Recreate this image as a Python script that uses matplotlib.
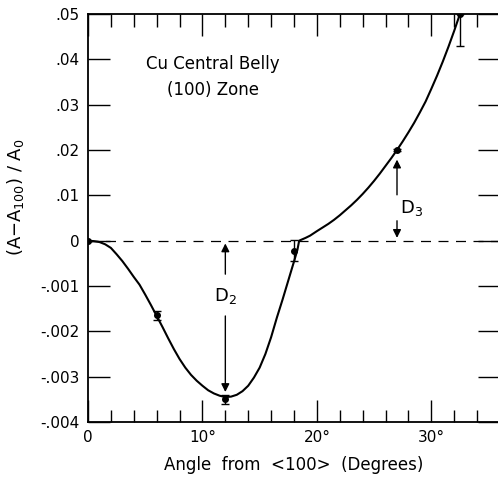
import numpy as np
import matplotlib
matplotlib.use('Agg')
import matplotlib.pyplot as plt

# curva suave (grados, valor)
curve_x = [0, 0.5, 1.0, 1.5, 2.0, 2.5, 3.0, 3.5, 4.0, 4.5, 5.0, 5.5, 6.0, 6.5, 7.0, 7.5, 8.0, 8.5, 9.0, 9.5,
           10.0, 10.5, 11.0, 11.5, 12.0, 12.5, 13.0, 13.5, 14.0, 14.5, 15.0, 15.5, 16.0, 16.5, 17.0, 17.5, 18.0, 18.3,
           18.45, 19.0, 19.4, 20.0, 20.5, 21.0, 21.5, 22.0, 22.5, 23.0, 23.5, 24.0, 24.5, 25.0, 25.5, 26.0, 26.5,
           27.0, 27.5, 28.0, 28.5, 29.0, 29.5, 30.0, 30.5, 31.0, 31.5, 32.0, 32.5]
curve_y = [0, -0.00001, -0.00003, -0.00008, -0.00016, -0.0003, -0.00045, -0.00062, -0.0008, -0.00097,
           -0.00119, -0.00142, -0.00166, -0.0019, -0.00215, -0.00239, -0.00261, -0.0028, -0.00296, -0.00309,
           -0.0032, -0.0033, -0.00337, -0.00342, -0.00345, -0.00344, -0.0034, -0.00332, -0.0032, -0.00302,
           -0.0028, -0.0025, -0.00213, -0.0017, -0.0013, -0.00088, -0.00046, -0.0002,
           0.0, 0.0006, 0.0011, 0.0021, 0.0029, 0.0037, 0.0046, 0.0056, 0.0067, 0.0078, 0.0090, 0.0103, 0.0117,
           0.0132, 0.0148, 0.0165, 0.0182, 0.0200, 0.0219, 0.0239, 0.0260, 0.0283, 0.0307, 0.0335, 0.0364,
           0.0395, 0.0428, 0.0463, 0.0500]

# puntos medidos con barras de error
pts_x = [0, 6, 12, 18, 27, 32.5]
pts_y = [0, -0.00165, -0.0035, -0.00022, 0.0200, 0.0500]
err_lo = [0, 0.0001, 0.0001, 0.00022, 0.0003, 0.007]
err_hi = [0, 0.0001, 0.0001, 0.00028, 0.0003, 0.0]

yticks = [-0.004, -0.003, -0.002, -0.001, 0, 0.01, 0.02, 0.03, 0.04, 0.05]
ytick_labels = ['-.004', '-.003', '-.002', '-.001', '0', '.01', '.02', '.03', '.04', '.05']
xticks = [0, 10, 20, 30]
xtick_labels = ['0', '10°', '20°', '30°']


def fwd(y):
    y = np.asarray(y, dtype=float)
    return np.where(y >= 0, y * 100, y * 1000)


def inv(t):
    t = np.asarray(t, dtype=float)
    return np.where(t >= 0, t / 100, t / 1000)


plt.rcParams['font.family'] = ['DejaVu Sans']
fig = plt.figure(figsize=(4.98, 4.78), dpi=100)
ax = fig.add_axes([88 / 498, 56 / 478, 412 / 498, 408 / 478])
ax.set_yscale('function', functions=(fwd, inv))
ax.set_xlim(0, 36)
ax.set_ylim(-0.004, 0.05)

ax.axhline(0, color='black', lw=0.9, dashes=(8, 6))
ax.plot(curve_x, curve_y, color='black', lw=1.5)
ax.errorbar(pts_x, pts_y, yerr=[err_lo, err_hi], fmt='o', color='black',
            ms=4, elinewidth=1.0, capsize=3, capthick=1.0)

# flechas D2 y D3
ax.annotate('', xy=(12, -0.0034), xytext=(12, -0.0016),
            arrowprops=dict(arrowstyle='-|>', color='black', lw=1.0, mutation_scale=12))
ax.annotate('', xy=(12, 0.0), xytext=(12, -0.0008),
            arrowprops=dict(arrowstyle='-|>', color='black', lw=1.0, mutation_scale=12))
ax.text(12, -0.00122, 'D$_2$', ha='center', va='center', fontsize=13)
ax.annotate('', xy=(27, 0.0185), xytext=(27, 0.0095),
            arrowprops=dict(arrowstyle='-|>', color='black', lw=1.0, mutation_scale=12))
ax.annotate('', xy=(27, 0.0), xytext=(27, 0.0050),
            arrowprops=dict(arrowstyle='-|>', color='black', lw=1.0, mutation_scale=12))
ax.text(27.3, 0.0073, 'D$_3$', ha='left', va='center', fontsize=13)

ax.text(10.9, 0.039, 'Cu Central Belly', ha='center', va='center', fontsize=12)
ax.text(10.9, 0.0333, '(100) Zone', ha='center', va='center', fontsize=12)

ax.set_yticks(yticks)
ax.set_yticklabels(ytick_labels, fontsize=11)
ax.set_xticks(xticks)
ax.set_xticklabels(xtick_labels, fontsize=11)
ax.set_xticks(np.arange(0, 36, 2), minor=True)
ax.yaxis.set_minor_locator(matplotlib.ticker.NullLocator())
ax.tick_params(axis='both', which='major', direction='in', length=16, width=1.0,
               top=True, right=True, pad=6)
ax.tick_params(axis='x', which='minor', direction='in', length=9, width=1.0, top=True)
ax.spines['right'].set_visible(False)
for s in ['left', 'top', 'bottom']:
    ax.spines[s].set_linewidth(1.3)

ax.set_xlabel('Angle  from  <100>  (Degrees)', fontsize=12, labelpad=8)
ax.set_ylabel('(A$-$A$_{100}$) / A$_0$', fontsize=13, labelpad=6)
ax.yaxis.set_label_coords(-0.15, 0.55)

fig.savefig('out.png', dpi=100)
